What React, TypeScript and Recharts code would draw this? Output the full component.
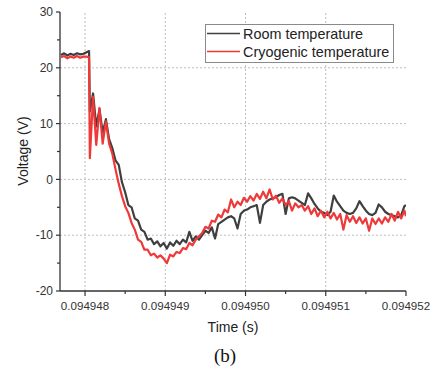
import React from 'react';
import { LineChart, Line, XAxis, YAxis, ReferenceLine } from 'recharts';

// Time (s)
const time = [
  0.0949477, 0.09494774, 0.09494778, 0.09494782, 0.09494786, 0.0949479, 0.09494794, 0.09494798,
  0.09494802, 0.09494805, 0.09494806, 0.0949481, 0.09494814, 0.09494818, 0.09494822, 0.09494826,
  0.0949483, 0.09494834, 0.09494838, 0.09494842, 0.09494846, 0.0949485, 0.09494854, 0.09494858,
  0.09494862, 0.09494866, 0.0949487, 0.09494874, 0.09494878, 0.09494882, 0.09494886, 0.0949489,
  0.09494894, 0.09494898, 0.09494902, 0.09494906, 0.0949491, 0.09494914, 0.09494918, 0.09494922,
  0.09494926, 0.0949493, 0.09494934, 0.09494938, 0.09494942, 0.09494946, 0.0949495, 0.09494954,
  0.09494958, 0.09494962, 0.09494966, 0.0949497, 0.09494974, 0.09494978, 0.09494982, 0.09494986,
  0.0949499, 0.09494994, 0.09494998, 0.09495002, 0.09495006, 0.0949501, 0.09495014, 0.09495018,
  0.09495022, 0.09495026, 0.0949503, 0.09495034, 0.09495038, 0.09495042, 0.09495046, 0.0949505,
  0.09495054, 0.09495058, 0.09495062, 0.09495066, 0.0949507, 0.09495074, 0.09495078, 0.09495082,
  0.09495086, 0.0949509, 0.09495094, 0.09495098, 0.09495102, 0.09495106, 0.0949511, 0.09495114,
  0.09495118, 0.09495122, 0.09495126, 0.0949513, 0.09495134, 0.09495138, 0.09495142, 0.09495146,
  0.0949515, 0.09495154, 0.09495158, 0.09495162, 0.09495166, 0.0949517, 0.09495174, 0.09495178,
  0.09495182, 0.09495186, 0.0949519, 0.09495194, 0.09495198, 0.094952,
];

// Voltage (V), room temperature
const roomTemp = [
  22.3, 22.6, 22.2, 22.5, 22.3, 22.6, 22.4, 22.5,
  22.8, 23.0, 12.2, 15.4, 9.5, 12.6, 8.4, 10.8,
  7.2, 5.6, 3.4, 2.6, -0.5, -2.3, -4.6, -5.0,
  -7.0, -7.4, -9.0, -9.4, -10.8, -10.6, -11.6, -11.1,
  -12.0, -11.4, -12.4, -11.3, -11.9, -11.0, -11.6, -10.8,
  -11.3, -9.4, -11.0, -10.2, -10.8, -10.0, -9.2, -9.6,
  -8.6, -10.6, -8.0, -7.6, -7.2, -6.8, -6.6, -7.0,
  -8.8, -6.2, -5.6, -5.4, -5.0, -4.8, -4.6, -7.8,
  -4.6, -4.0, -3.6, -3.4, -3.2, -2.8, -2.6, -6.2,
  -3.4, -3.2, -3.4, -3.8, -4.2, -4.6, -2.5, -3.4,
  -4.4, -5.2, -5.8, -6.0, -6.4, -5.8, -2.9, -4.0,
  -4.8, -5.6, -6.0, -6.2, -6.0, -5.2, -3.9, -4.8,
  -5.6, -6.2, -6.4, -6.0, -4.5, -5.0, -5.8, -6.2,
  -6.4, -6.6, -6.8, -6.4, -4.8, -4.6,
];

// Voltage (V), cryogenic temperature
const cryoTemp = [
  21.9, 22.1, 21.7, 22.0, 21.8, 22.1, 21.8, 22.0,
  22.0, 21.9, 3.8, 14.8, 6.2, 12.8, 6.4, 10.4,
  6.4, 4.6, 1.8, -0.8, -3.0, -4.8, -6.0, -7.8,
  -9.0, -10.8, -11.2, -12.6, -12.6, -13.6, -13.3, -14.0,
  -13.6, -14.2, -15.0, -13.5, -13.8, -13.0, -13.2, -12.3,
  -12.5, -11.4, -11.8, -10.8, -10.2, -9.6, -8.5, -8.8,
  -7.4, -7.6, -6.3, -6.8, -5.4, -5.9, -3.6, -5.0,
  -4.0, -4.6, -3.3, -4.0, -3.0, -3.8, -2.6, -3.5,
  -2.2, -3.4, -1.8, -3.6, -2.9, -4.2, -3.4, -4.6,
  -3.9, -5.6, -4.3, -5.0, -4.6, -5.6, -4.8, -6.2,
  -5.2, -6.6, -5.6, -6.8, -5.8, -7.0, -6.0, -7.2,
  -6.2, -9.0, -6.4, -7.6, -6.6, -7.8, -6.8, -7.9,
  -7.0, -9.2, -7.0, -8.0, -7.0, -7.9, -6.8, -7.6,
  -6.2, -7.4, -5.8, -7.0, -5.6, -6.6,
];

const seriesNames = ['Room temperature', 'Cryogenic temperature'];
const seriesColors = ['#3f3f3f', '#ef3838'];

const xTicks = [0.094948, 0.0949485, 0.094949, 0.0949495, 0.09495, 0.0949505, 0.094951, 0.0949515, 0.094952];
const xMajorTicks = [0.094948, 0.094949, 0.09495, 0.094951, 0.094952];
const xGrid = [0.094948, 0.094949, 0.09495, 0.094951];
const yTicks = [-20, -15, -10, -5, 0, 5, 10, 15, 20, 25, 30];
const yGrid = [-10, 0, 10, 20];
const xDomain = [0.094947688, 0.094952];
const yDomain = [-20, 30];

const data = time.map((t, i) => ({ time: t, room: roomTemp[i], cryo: cryoTemp[i] }));

const FONT = '"Liberation Sans", Arial, sans-serif';
const AXIS = '#333333';

const isMajorX = (v: number) => xMajorTicks.some((m) => Math.abs(m - v) < 1e-10);
const isMajorY = (v: number) => Math.abs(v % 10) < 1e-9;

const BottomTick = (p: any) => {
  const { x, y, payload } = p;
  const major = isMajorX(payload.value);
  return (
    <g>
      <line x1={x} x2={x} y1={y} y2={y + (major ? 5 : 3)} stroke={AXIS} strokeWidth={1.2} />
      {major && (
        <text x={x} y={y + 19} textAnchor="middle" fontSize={11.6} fill="#333" fontFamily={FONT}>
          {Number(payload.value).toFixed(6)}
        </text>
      )}
    </g>
  );
};

const TopTick = (p: any) => {
  const { x, y } = p;
  return <line x1={x} x2={x} y1={y} y2={y + 3} stroke={AXIS} strokeWidth={1} />;
};

const LeftTick = (p: any) => {
  const { x, y, payload } = p;
  const major = isMajorY(payload.value);
  return (
    <g>
      <line x1={x} x2={x - (major ? 4 : 3)} y1={y} y2={y} stroke={AXIS} strokeWidth={1.2} />
      {major && (
        <text x={x - 7} y={y + 4.2} textAnchor="end" fontSize={12} fill="#333" fontFamily={FONT}>
          {payload.value}
        </text>
      )}
    </g>
  );
};

const RightTick = (p: any) => {
  const { x, y } = p;
  return <line x1={x} x2={x - 3} y1={y} y2={y} stroke={AXIS} strokeWidth={1} />;
};

export default function App() {
  return (
    <div style={{ position: 'absolute', left: 0, top: 0, width: 432, height: 370, background: '#fff' }}>
      <LineChart
        width={432}
        height={370}
        data={data}
        margin={{ top: 12, right: 26, bottom: 49, left: 0 }}
      >
        <XAxis
          xAxisId="bottom"
          type="number"
          dataKey="time"
          domain={xDomain}
          allowDataOverflow
          ticks={xTicks}
          interval={0}
          tickSize={0}
          tickMargin={0}
          height={30}
          axisLine={{ stroke: AXIS, strokeWidth: 1.3 }}
          tickLine={false}
          tick={BottomTick}
        />
        <XAxis
          xAxisId="top"
          orientation="top"
          type="number"
          dataKey="time"
          domain={xDomain}
          allowDataOverflow
          ticks={xTicks}
          interval={0}
          tickSize={0}
          tickMargin={0}
          height={0}
          axisLine={{ stroke: AXIS, strokeWidth: 1 }}
          tickLine={false}
          tick={TopTick}
        />
        <YAxis
          yAxisId="left"
          type="number"
          domain={yDomain}
          allowDataOverflow
          ticks={yTicks}
          interval={0}
          tickSize={0}
          tickMargin={0}
          width={60}
          axisLine={{ stroke: AXIS, strokeWidth: 1.3 }}
          tickLine={false}
          tick={LeftTick}
        />
        <YAxis
          yAxisId="right"
          orientation="right"
          type="number"
          domain={yDomain}
          allowDataOverflow
          ticks={yTicks}
          interval={0}
          tickSize={0}
          tickMargin={0}
          width={0}
          axisLine={{ stroke: AXIS, strokeWidth: 1 }}
          tickLine={false}
          tick={RightTick}
        />
        {xGrid.map((v) => (
          <ReferenceLine key={'gx' + v} xAxisId="bottom" yAxisId="left" x={v} stroke="#bdbdbd" strokeDasharray="2 2" />
        ))}
        {yGrid.map((v) => (
          <ReferenceLine key={'gy' + v} xAxisId="bottom" yAxisId="left" y={v} stroke="#bdbdbd" strokeDasharray="2 2" />
        ))}
        <Line
          xAxisId="bottom"
          yAxisId="left"
          type="linear"
          dataKey="room"
          name={seriesNames[0]}
          stroke={seriesColors[0]}
          strokeWidth={2.2}
          strokeLinejoin="round"
          dot={false}
          isAnimationActive={false}
        />
        <Line
          xAxisId="bottom"
          yAxisId="left"
          type="linear"
          dataKey="cryo"
          name={seriesNames[1]}
          stroke={seriesColors[1]}
          strokeWidth={2.2}
          strokeLinejoin="round"
          dot={false}
          isAnimationActive={false}
        />
      </LineChart>
      <svg
        width={432}
        height={370}
        style={{ position: 'absolute', left: 0, top: 0, pointerEvents: 'none' }}
      >
        <text
          x={28}
          y={151}
          transform="rotate(-90 28 151)"
          textAnchor="middle"
          fontSize={14}
          fill="#222"
          fontFamily={FONT}
        >
          Voltage (V)
        </text>
        <text x={233} y={332} textAnchor="middle" fontSize={14} fill="#222" fontFamily={FONT}>
          Time (s)
        </text>
        <text x={225} y={362} textAnchor="middle" fontSize={19} fill="#111" fontFamily={'"Liberation Serif", "Times New Roman", serif'}>
          (b)
        </text>
        <rect x={205.5} y={24.5} width={188} height={38} fill="#fff" stroke="#8a8a8a" strokeWidth={1} />
        <line x1={207} x2={240} y1={33.5} y2={33.5} stroke={seriesColors[0]} strokeWidth={1.5} />
        <text x={243} y={38.5} fontSize={14.4} fill="#222" fontFamily={FONT}>
          {seriesNames[0]}
        </text>
        <line x1={207} x2={240} y1={51.5} y2={51.5} stroke={seriesColors[1]} strokeWidth={1.5} />
        <text x={243} y={56.5} fontSize={14.4} fill="#222" fontFamily={FONT}>
          {seriesNames[1]}
        </text>
      </svg>
    </div>
  );
}
